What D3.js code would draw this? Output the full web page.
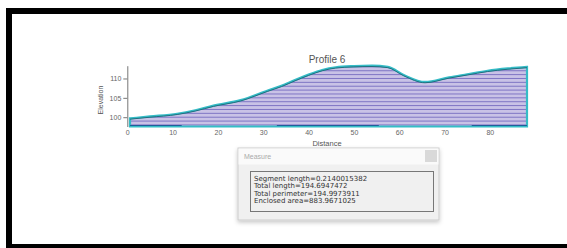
<!DOCTYPE html>
<html lang="en">
<head>
  <meta charset="UTF-8">
  <title>Profile 6</title>
  <script src="https://cdn.jsdelivr.net/npm/d3@7"></script>
  <style>
    body { margin: 0; background: #fff; }
    svg text { font-family: Arial, "Liberation Sans", sans-serif; fill: #555; }
    .tick text { font-size: 7px; fill: #666; }
    .tick line, .domain { stroke: #777; }
  </style>
</head>
<body>
<script>
  // profile
  var distance  = [0.6, 5, 11, 15, 19, 25, 31, 34, 37, 40, 43, 46, 50, 54, 57.5, 61, 65.7, 71, 75, 79.5, 84, 88.2];
  var elevation = [99.7, 100.2, 100.9, 101.8, 103, 104.4, 106.9, 108.1, 109.6, 111, 112.2, 112.9, 113.2, 113.3, 113.0, 110.9, 109.1, 110.3, 111.1, 112.0, 112.6, 113.0];
  var xTicks = [0, 10, 20, 30, 40, 50, 60, 70, 80];
  var yTicks = [100, 105, 110];
  var darkBase = [[0.6, 12], [33, 55.5], [76, 88.2]];   // dark stretches along the base
  var measureLines = [
    "Segment length=0.2140015382",
    "Total length=194.6947472",
    "Total perimeter=194.9973911",
    "Enclosed area=883.9671025"
  ];

  var W = 567, H = 248;
  var svg = d3.select("body").append("svg").attr("width", W).attr("height", H);

  // black frame
  svg.append("rect").attr("x", 9).attr("y", 11).attr("width", 562).attr("height", 236)
     .attr("fill", "#fff").attr("stroke", "#000").attr("stroke-width", 6);

  var x = d3.scaleLinear().domain([0, 88.2]).range([127.3, 527]);
  var y = d3.scaleLinear().domain([97.6, 113.3]).range([126.5, 65.7]);
  var pts = distance.map(function(d, i) { return [d, elevation[i]]; });
  var base = y.domain()[0];

  var area = d3.area().x(function(d) { return x(d[0]); })
      .y0(y(base)).y1(function(d) { return y(d[1]); })
      .curve(d3.curveMonotoneX);
  var line = d3.line().x(function(d) { return x(d[0]); })
      .y(function(d) { return y(d[1]); })
      .curve(d3.curveMonotoneX);

  svg.append("clipPath").attr("id", "clip").append("path").datum(pts).attr("d", area);

  // filled profile
  svg.append("path").datum(pts).attr("d", area).attr("fill", "#c9c2e6");

  // horizontal stripes, one per unit of elevation
  svg.append("g").attr("clip-path", "url(#clip)")
     .selectAll("line").data(d3.range(98, 114)).enter().append("line")
     .attr("x1", x(0)).attr("x2", x(88.2))
     .attr("y1", function(d) { return y(d); }).attr("y2", function(d) { return y(d); })
     .attr("stroke", "#7f75c4").attr("stroke-width", 1);

  // teal outline
  svg.append("path").datum(pts).attr("d", area)
     .attr("fill", "none").attr("stroke", "#35bcc6").attr("stroke-width", 2.2);
  svg.append("path").datum(pts).attr("d", line)
     .attr("fill", "none").attr("stroke", "#1f6f7e").attr("stroke-width", 1)
     .attr("transform", "translate(0,0.8)");

  svg.selectAll(".base").data(darkBase).enter().append("line")
     .attr("x1", function(d) { return x(d[0]); }).attr("x2", function(d) { return x(d[1]); })
     .attr("y1", y(base) - 1).attr("y2", y(base) - 1)
     .attr("stroke", "#1f5f9a").attr("stroke-width", 1.2);

  // axes
  svg.append("g").attr("transform", "translate(" + x(0) + ",0)")
     .call(d3.axisLeft(y).tickValues(yTicks).tickSize(4).tickPadding(2).tickSizeOuter(0));
  var xa = svg.append("g").attr("transform", "translate(0," + (y(base) + 1) + ")")
     .call(d3.axisBottom(x).tickValues(xTicks).tickSize(0).tickPadding(3));
  xa.select(".domain").remove();

  svg.append("text").attr("x", 327).attr("y", 63).attr("text-anchor", "middle")
     .style("font-size", "10px").text("Profile 6");
  svg.append("text").attr("x", 327).attr("y", 146).attr("text-anchor", "middle")
     .style("font-size", "7.5px").text("Distance");
  svg.append("text").attr("transform", "translate(103,100) rotate(-90)")
     .attr("text-anchor", "middle").style("font-size", "7px").text("Elevation");

  // measure dialog
  var defs = svg.append("defs");
  var f = defs.append("filter").attr("id", "shadow").attr("x", "-10%").attr("y", "-10%")
     .attr("width", "120%").attr("height", "130%");
  f.append("feDropShadow").attr("dx", 0).attr("dy", 2).attr("stdDeviation", 2)
     .attr("flood-color", "#000").attr("flood-opacity", 0.22);

  var dlg = svg.append("g");
  dlg.append("rect").attr("x", 238).attr("y", 148).attr("width", 201).attr("height", 72)
     .attr("fill", "#f0f0f0").attr("stroke", "#ccc").attr("filter", "url(#shadow)");
  dlg.append("rect").attr("x", 238.5).attr("y", 148.5).attr("width", 200).attr("height", 16)
     .attr("fill", "#fafafa");
  dlg.append("rect").attr("x", 425).attr("y", 150).attr("width", 12).attr("height", 12)
     .attr("fill", "#d9d9d9");
  dlg.append("text").attr("x", 244).attr("y", 159).style("font-size", "7px")
     .style("fill", "#aaa").text("Measure");
  dlg.append("rect").attr("x", 250.5).attr("y", 171.5).attr("width", 183).attr("height", 40)
     .attr("fill", "#f0f0f0").attr("stroke", "#777");
  dlg.selectAll(".m").data(measureLines).enter().append("text")
     .attr("x", 254).attr("y", function(d, i) { return 180.5 + i * 7.6; })
     .style("font-family", "'DejaVu Sans', Verdana, sans-serif")
     .style("font-size", "7px").style("fill", "#333").text(function(d) { return d; });
</script>
</body>
</html>
